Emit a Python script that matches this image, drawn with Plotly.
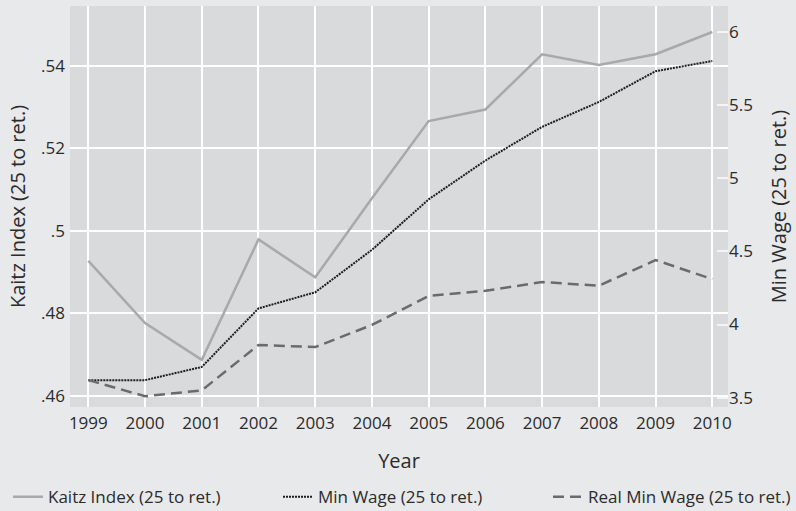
import plotly.graph_objects as go

years = [1999, 2000, 2001, 2002, 2003, 2004, 2005, 2006, 2007, 2008, 2009, 2010]
kaitz = [0.4927, 0.4776, 0.4687, 0.4979, 0.4887, 0.5079, 0.5266, 0.5294, 0.5428, 0.5402, 0.5428, 0.5482]
min_wage = [3.62, 3.62, 3.71, 4.11, 4.22, 4.51, 4.855, 5.12, 5.35, 5.52, 5.73, 5.80]
real_min_wage = [3.62, 3.51, 3.55, 3.86, 3.846, 3.997, 4.195, 4.23, 4.29, 4.265, 4.44, 4.31]

left_ticks = [0.46, 0.48, 0.50, 0.52, 0.54]
left_labels = [".46", ".48", ".5", ".52", ".54"]
right_ticks = [3.5, 4, 4.5, 5, 5.5, 6]
right_labels = ["3.5", "4", "4.5", "5", "5.5", "6"]

FONT = "Open Sans"
TXT = "#2b2b2b"
BG = "#e8e9ea"
L, R, T, B = 70, 68, 6, 104
W = 796 - L - R


def px_to_paper(px):
    return (px - L) / W


fig = go.Figure()
fig.add_trace(go.Scatter(x=years, y=kaitz, mode="lines", name="Kaitz Index (25 to ret.)",
                         line=dict(color="#a9a9a9", width=2.5), yaxis="y", legend="legend"))
fig.add_trace(go.Scatter(x=years, y=min_wage, mode="lines", name="Min Wage (25 to ret.)",
                         line=dict(color="#1e1e1e", width=2, dash="2px,1px"), yaxis="y2", legend="legend2"))
fig.add_trace(go.Scatter(x=years, y=real_min_wage, mode="lines", name="Real Min Wage (25 to ret.)",
                         line=dict(color="#6b6b6b", width=2.5, dash="11px,6px"), yaxis="y2", legend="legend3"))

leg_common = dict(orientation="h", xanchor="left", y=-0.225, yanchor="middle",
                  bgcolor="rgba(0,0,0,0)", font=dict(size=17, color=TXT), borderwidth=0)

fig.update_layout(
    width=796, height=511,
    margin=dict(l=L, r=R, t=T, b=B, autoexpand=False),
    paper_bgcolor=BG,
    plot_bgcolor="#d9dadc",
    font=dict(family=FONT, size=17, color=TXT),
    xaxis=dict(range=[1998.677, 2010.277], tickvals=years, ticktext=[str(y) for y in years],
               showgrid=True, gridcolor="#ffffff", gridwidth=1.5, zeroline=False, showline=False,
               ticks="", ticklabelstandoff=4, automargin=False,
               title=dict(text="Year", standoff=20)),
    yaxis=dict(range=[0.45726, 0.5545], tickvals=left_ticks, ticktext=left_labels,
               showgrid=True, gridcolor="#ffffff", gridwidth=1.5, zeroline=False, showline=False,
               ticks="", ticklabelstandoff=4, automargin=False,
               title=dict(text="Kaitz Index (25 to ret.)", standoff=10)),
    yaxis2=dict(range=[3.4365, 6.1755], tickvals=right_ticks, ticktext=right_labels,
                overlaying="y", side="right", showgrid=False, zeroline=False, showline=False,
                ticks="inside", ticklen=11, tickcolor="#f4f4f4", tickwidth=1.5, automargin=False,
                title=dict(text="Min Wage (25 to ret.)", standoff=20)),
    legend=dict(x=px_to_paper(8), **leg_common),
    legend2=dict(x=px_to_paper(278), **leg_common),
    legend3=dict(x=px_to_paper(548), **leg_common),
    showlegend=True,
)

fig.write_html(
    "out.html",
    config={"displayModeBar": False},
    post_script=f"document.body.style.margin='0';document.body.style.background='{BG}';",
)
